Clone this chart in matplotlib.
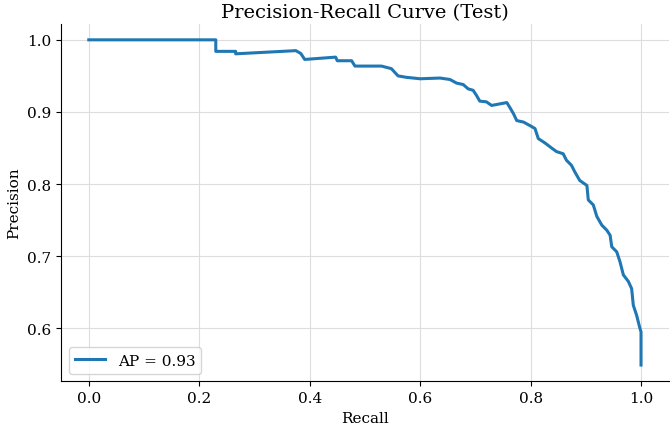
import matplotlib
matplotlib.use("Agg")
from matplotlib import pyplot as plt

# values
recall = [0.0, 0.230, 0.230, 0.266, 0.266, 0.375, 0.384, 0.391, 0.447, 0.450,
          0.476, 0.482, 0.530, 0.548, 0.560, 0.575, 0.600, 0.636, 0.654, 0.666,
          0.678, 0.687, 0.696, 0.702, 0.708, 0.720, 0.7295, 0.757, 0.763, 0.769,
          0.775, 0.787, 0.799, 0.808, 0.814, 0.826, 0.838, 0.847, 0.859, 0.865,
          0.874, 0.880, 0.889, 0.902, 0.9045, 0.9136, 0.920, 0.929, 0.938, 0.944,
          0.947, 0.956, 0.962, 0.968, 0.977, 0.983, 0.986, 0.992, 0.998, 1.0, 1.0]
precision = [1.0, 1.0, 0.984, 0.984, 0.9806, 0.985, 0.981, 0.9728, 0.976, 0.971,
             0.971, 0.9636, 0.9636, 0.960, 0.950, 0.948, 0.946, 0.947, 0.945, 0.940,
             0.938, 0.932, 0.930, 0.923, 0.915, 0.914, 0.909, 0.913, 0.9055, 0.8976,
             0.888, 0.886, 0.881, 0.877, 0.863, 0.857, 0.850, 0.845, 0.842, 0.833,
             0.826, 0.817, 0.805, 0.798, 0.778, 0.771, 0.755, 0.743, 0.736, 0.729,
             0.713, 0.706, 0.692, 0.674, 0.665, 0.655, 0.632, 0.618, 0.600, 0.595, 0.549]
ap = 0.93

plt.rcParams["font.family"] = "DejaVu Serif"
plt.rcParams["font.size"] = 11

fig = plt.figure(figsize=(6.72, 4.31), dpi=100)
ax = fig.add_axes([0.091, 0.113, 0.904, 0.830])
ax.plot(recall, precision, color="#1f77b4", linewidth=2.2, label=f"AP = {ap:.2f}")
ax.set_xlabel("Recall", fontsize=11)
ax.set_ylabel("Precision", fontsize=11)
ax.set_title("Precision-Recall Curve (Test)", fontsize=14, pad=5)
ax.tick_params(labelsize=11)
ax.grid(True, color="#dddddd", linewidth=0.8)
ax.spines["top"].set_visible(False)
ax.spines["right"].set_visible(False)
ax.legend(loc="lower left", fontsize=11)
fig.savefig("out.png", dpi=100)
